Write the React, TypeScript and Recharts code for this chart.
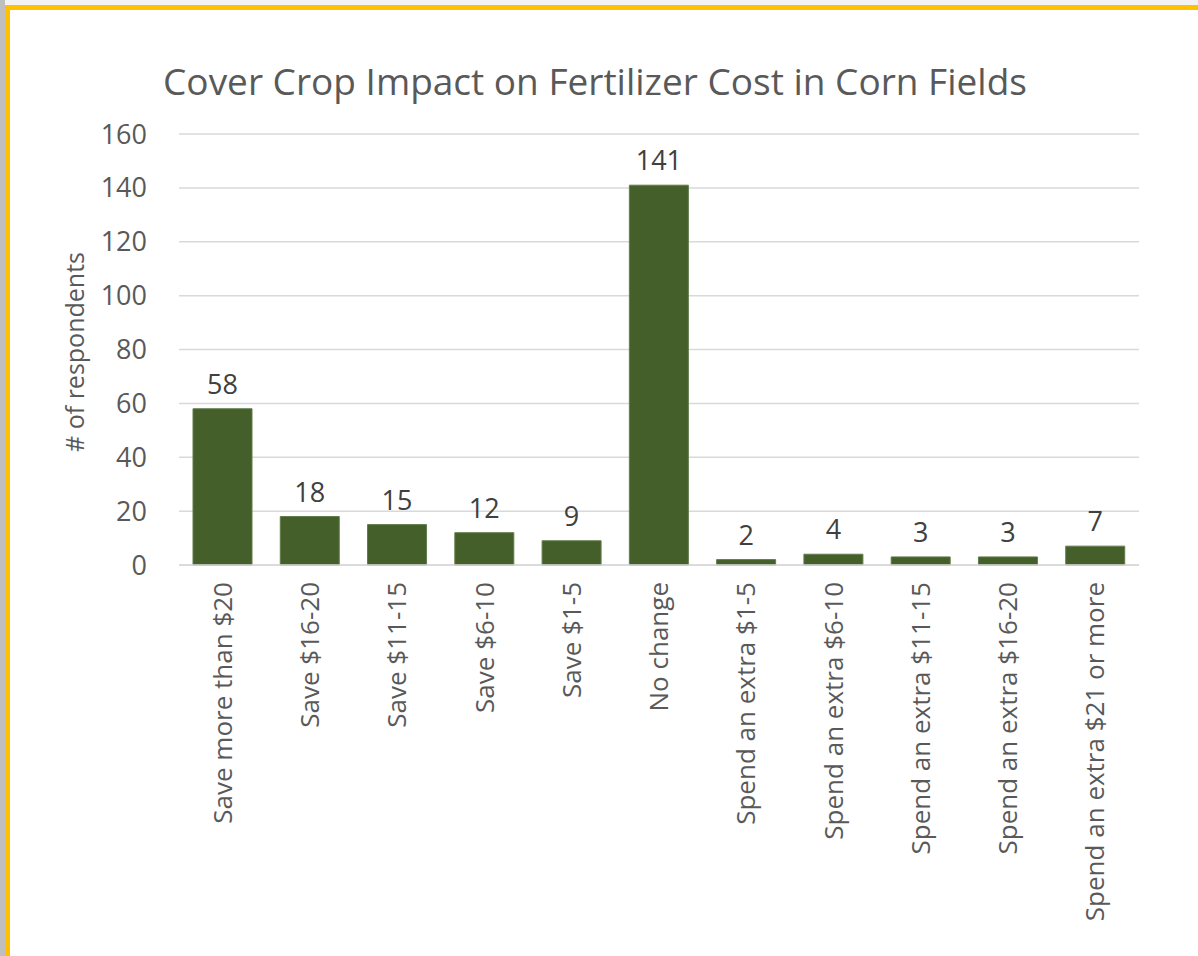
import React from 'react';
import { BarChart, Bar, XAxis, YAxis, CartesianGrid, LabelList } from 'recharts';

const categories = [
  'Save more than $20',
  'Save $16-20',
  'Save $11-15',
  'Save $6-10',
  'Save $1-5',
  'No change',
  'Spend an extra $1-5',
  'Spend an extra $6-10',
  'Spend an extra $11-15',
  'Spend an extra $16-20',
  'Spend an extra $21 or more',
];
const respondents = [58, 18, 15, 12, 9, 141, 2, 4, 3, 3, 7];
const yTicks = [0, 20, 40, 60, 80, 100, 120, 140, 160];

const data = categories.map((name, i) => ({ name, value: respondents[i] }));

const FONT = '"Open Sans", sans-serif';

const XTick = (props: any) => {
  const { x, y, payload } = props;
  return (
    <g transform={`translate(${x},${y})`}>
      <text
        transform="rotate(-90)"
        textAnchor="end"
        dy="0.35em"
        fill="#595959"
        fontSize={26}
        fontFamily={FONT}
      >
        {payload.value}
      </text>
    </g>
  );
};

const App: React.FC = () => {
  return (
    <div style={{ position: 'absolute', left: 0, top: 0, width: 1198, height: 956, background: '#f2f2f2', overflow: 'hidden' }}>
      <div style={{ position: 'absolute', left: 0, top: 0, width: 5, height: 956, background: '#bfbfbf' }} />
      <div
        style={{
          position: 'absolute',
          left: 5,
          top: 5,
          width: 1188,
          height: 946,
          background: '#fff',
          borderLeft: '5px solid #FFC000',
          borderTop: '5px solid #FFC000',
        }}
      >
        <BarChart
          width={1188}
          height={946}
          data={data}
          margin={{ top: 124, right: 59, bottom: 0, left: 0 }}
          style={{ fontFamily: FONT }}
        >
          <CartesianGrid vertical={false} stroke="#d9d9d9" strokeWidth={1.5} />
          <XAxis
            dataKey="name"
            interval={0}
            height={391}
            tickLine={false}
            axisLine={{ stroke: '#d9d9d9', strokeWidth: 1.5 }}
            tickMargin={11}
            tick={<XTick />}
          />
          <YAxis
            width={169}
            domain={[0, 160]}
            ticks={yTicks}
            axisLine={false}
            tickLine={false}
            tickMargin={26}
            tick={{ fill: '#595959', fontSize: 27, fontFamily: FONT }}
          />
          <Bar dataKey="value" fill="#455F2B" stroke="#627c4a" strokeWidth={1} barSize={59} isAnimationActive={false}>
            <LabelList dataKey="value" position="top" offset={15} fill="#404040" fontSize={27} fontFamily={FONT} />
          </Bar>
        </BarChart>
      </div>
      <svg width={1198} height={956} style={{ position: 'absolute', left: 0, top: 0, pointerEvents: 'none' }}>
        <text x={595} y={95} textAnchor="middle" fill="#595959" fontSize={37} fontFamily={FONT}>
          Cover Crop Impact on Fertilizer Cost in Corn Fields
        </text>
        <text
          transform="translate(84,352) rotate(-90)"
          textAnchor="middle"
          fill="#595959"
          fontSize={25}
          fontFamily={FONT}
        >
          # of respondents
        </text>
      </svg>
    </div>
  );
};

export default App;
